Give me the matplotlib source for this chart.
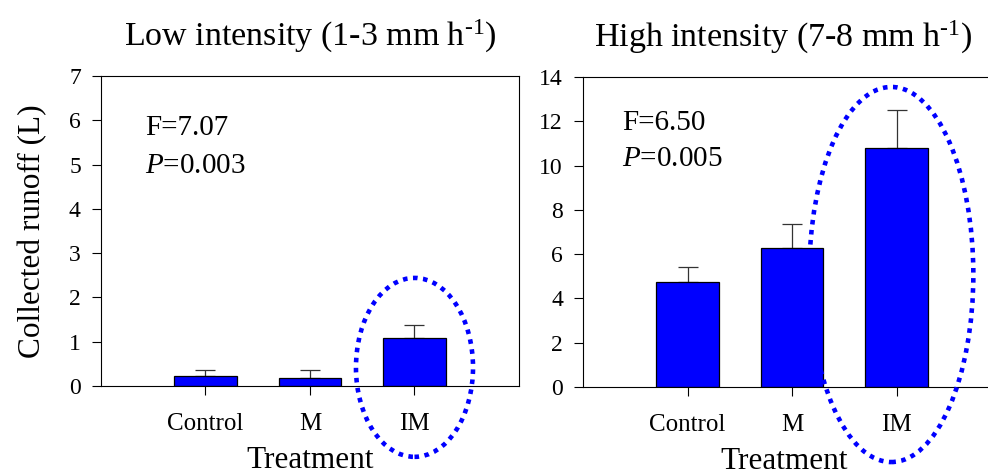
import numpy as np
import matplotlib
matplotlib.use("Agg")
import matplotlib.pyplot as plt
from matplotlib.patches import Ellipse

# Data
treatments = ["Control", "M", "IM"]
low_mean = [0.22, 0.19, 1.09]
low_err = [0.14, 0.16, 0.29]
high_mean = [4.73, 6.29, 10.81]
high_err = [0.68, 1.07, 1.70]

low_stats = ["F=7.07", "$\\mathit{P}$=0.003"]
high_stats = ["F=6.50", "$\\mathit{P}$=0.005"]

low_title = "Low intensity (1-3 mm h$^{\\text{-1}}$)"
high_title = "High intensity (7-8 mm h$^{\\text{-1}}$)"

# highlight ellipse around IM: (x centre, y centre, width, height) in data units
low_ellipse = (3.0, 0.42, 1.12, 4.04)
high_ellipse = (2.95, 5.08, 1.57, 16.94)

plt.rcParams["font.family"] = ["Liberation Serif", "DejaVu Serif"]
plt.rcParams["mathtext.fontset"] = "custom"
plt.rcParams["mathtext.rm"] = "Liberation Serif"
plt.rcParams["mathtext.it"] = "Liberation Serif:italic"

BLUE = "#0000ff"


def draw_panel(ax, means, errs, ymax, yticks, title, stats, stat_pos, ellipse, title_x):
    x = np.arange(1, len(treatments) + 1)
    ax.errorbar(x, means, yerr=[np.zeros(len(errs)), errs], fmt="none",
                ecolor="#333333", elinewidth=0.9, capsize=7, capthick=0.9, zorder=1)
    ax.bar(x, means, width=0.6, color=BLUE, edgecolor="black", linewidth=0.9, zorder=2)

    ax.set_xlim(0, 4)
    ax.set_ylim(0, ymax)
    ax.set_xticks(x)
    ax.set_xticklabels(treatments, fontsize=18)
    ax.set_yticks(yticks)
    ax.tick_params(axis="y", direction="out", length=6.5, width=0.8, pad=8, labelsize=17)
    ax.tick_params(axis="x", direction="out", length=6.5, width=0.8, pad=13)
    for sp in ax.spines.values():
        sp.set_linewidth(0.8)

    ax.set_title(title, fontsize=24.5, pad=22, x=title_x)
    ax.set_xlabel("Treatment", fontsize=22.5)
    ax.xaxis.set_label_coords(title_x, -0.195)

    ax.text(stat_pos[0], stat_pos[1], stats[0], transform=ax.transAxes,
            fontsize=21, va="baseline", ha="left")
    ax.text(stat_pos[0], stat_pos[2], stats[1], transform=ax.transAxes,
            fontsize=21, va="baseline", ha="left")

    cx, cy, w, h = ellipse
    e = Ellipse((cx, cy), w, h, fill=False, edgecolor=BLUE, linewidth=3.3,
                linestyle=(0, (1, 1.2)), clip_on=False, zorder=3)
    ax.add_patch(e)


fig = plt.figure(figsize=(9.88, 4.75), dpi=100)
ax1 = fig.add_axes([0.1022, 0.1874, 0.4231, 0.6526])
ax2 = fig.add_axes([0.5901, 0.1853, 0.4231, 0.6526])

draw_panel(ax1, low_mean, low_err, 7, range(0, 8), low_title, low_stats,
           (0.105, 0.81, 0.687), low_ellipse, 0.5)
draw_panel(ax2, high_mean, high_err, 14, range(0, 15, 2), high_title, high_stats,
           (0.093, 0.829, 0.713), high_ellipse, 0.48)

ax1.set_ylabel("Collected runoff (L)", fontsize=22.5, labelpad=16)

fig.savefig("out.png", dpi=100)
